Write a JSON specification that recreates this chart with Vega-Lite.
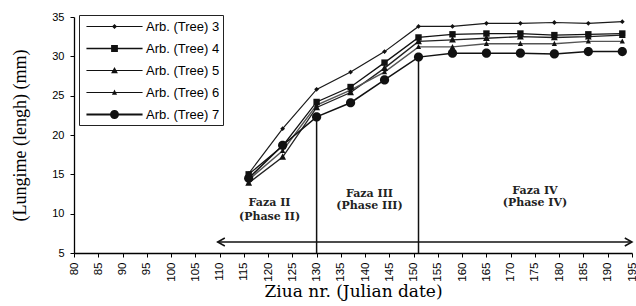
{
  "$schema": "https://vega.github.io/schema/vega-lite/v6.json",
  "width": 558,
  "height": 236,
  "autosize": {"type": "none"},
  "padding": {"left": 74, "top": 17, "right": 4, "bottom": 53},
  "background": "white",
  "config": {
    "view": {"stroke": null},
    "axis": {"grid": false, "domainColor": "black", "tickColor": "black", "labelColor": "black", "titleColor": "black", "labelFont": "Liberation Sans", "titleFont": "Liberation Serif", "titleFontWeight": "normal", "domainWidth": 1.3, "tickWidth": 1, "labelOverlap": false}
  },
  "resolve": {"scale": {"shape": "independent"}},
  "datasets": {
    "trees": [
      {"day": 116, "len": 15.1, "tree": "Arb. (Tree) 3"},
      {"day": 123, "len": 20.8, "tree": "Arb. (Tree) 3"},
      {"day": 130, "len": 25.8, "tree": "Arb. (Tree) 3"},
      {"day": 137, "len": 28.0, "tree": "Arb. (Tree) 3"},
      {"day": 144, "len": 30.6, "tree": "Arb. (Tree) 3"},
      {"day": 151, "len": 33.8, "tree": "Arb. (Tree) 3"},
      {"day": 158, "len": 33.8, "tree": "Arb. (Tree) 3"},
      {"day": 165, "len": 34.2, "tree": "Arb. (Tree) 3"},
      {"day": 172, "len": 34.2, "tree": "Arb. (Tree) 3"},
      {"day": 179, "len": 34.3, "tree": "Arb. (Tree) 3"},
      {"day": 186, "len": 34.2, "tree": "Arb. (Tree) 3"},
      {"day": 193, "len": 34.4, "tree": "Arb. (Tree) 3"},
      {"day": 116, "len": 15.0, "tree": "Arb. (Tree) 4"},
      {"day": 123, "len": 18.6, "tree": "Arb. (Tree) 4"},
      {"day": 130, "len": 24.2, "tree": "Arb. (Tree) 4"},
      {"day": 137, "len": 26.1, "tree": "Arb. (Tree) 4"},
      {"day": 144, "len": 29.2, "tree": "Arb. (Tree) 4"},
      {"day": 151, "len": 32.4, "tree": "Arb. (Tree) 4"},
      {"day": 158, "len": 32.8, "tree": "Arb. (Tree) 4"},
      {"day": 165, "len": 32.9, "tree": "Arb. (Tree) 4"},
      {"day": 172, "len": 32.9, "tree": "Arb. (Tree) 4"},
      {"day": 179, "len": 32.7, "tree": "Arb. (Tree) 4"},
      {"day": 186, "len": 32.8, "tree": "Arb. (Tree) 4"},
      {"day": 193, "len": 32.9, "tree": "Arb. (Tree) 4"},
      {"day": 116, "len": 13.9, "tree": "Arb. (Tree) 5"},
      {"day": 123, "len": 17.2, "tree": "Arb. (Tree) 5"},
      {"day": 130, "len": 23.5, "tree": "Arb. (Tree) 5"},
      {"day": 137, "len": 25.4, "tree": "Arb. (Tree) 5"},
      {"day": 144, "len": 28.5, "tree": "Arb. (Tree) 5"},
      {"day": 151, "len": 31.9, "tree": "Arb. (Tree) 5"},
      {"day": 158, "len": 32.1, "tree": "Arb. (Tree) 5"},
      {"day": 165, "len": 32.3, "tree": "Arb. (Tree) 5"},
      {"day": 172, "len": 32.5, "tree": "Arb. (Tree) 5"},
      {"day": 179, "len": 32.4, "tree": "Arb. (Tree) 5"},
      {"day": 186, "len": 32.5, "tree": "Arb. (Tree) 5"},
      {"day": 193, "len": 32.7, "tree": "Arb. (Tree) 5"},
      {"day": 116, "len": 14.3, "tree": "Arb. (Tree) 6"},
      {"day": 123, "len": 18.0, "tree": "Arb. (Tree) 6"},
      {"day": 130, "len": 23.8, "tree": "Arb. (Tree) 6"},
      {"day": 137, "len": 25.7, "tree": "Arb. (Tree) 6"},
      {"day": 144, "len": 28.0, "tree": "Arb. (Tree) 6"},
      {"day": 151, "len": 31.2, "tree": "Arb. (Tree) 6"},
      {"day": 158, "len": 31.2, "tree": "Arb. (Tree) 6"},
      {"day": 165, "len": 31.6, "tree": "Arb. (Tree) 6"},
      {"day": 172, "len": 31.6, "tree": "Arb. (Tree) 6"},
      {"day": 179, "len": 31.6, "tree": "Arb. (Tree) 6"},
      {"day": 186, "len": 31.9, "tree": "Arb. (Tree) 6"},
      {"day": 193, "len": 31.9, "tree": "Arb. (Tree) 6"},
      {"day": 116, "len": 14.5, "tree": "Arb. (Tree) 7"},
      {"day": 123, "len": 18.7, "tree": "Arb. (Tree) 7"},
      {"day": 130, "len": 22.3, "tree": "Arb. (Tree) 7"},
      {"day": 137, "len": 24.1, "tree": "Arb. (Tree) 7"},
      {"day": 144, "len": 27.0, "tree": "Arb. (Tree) 7"},
      {"day": 151, "len": 29.9, "tree": "Arb. (Tree) 7"},
      {"day": 158, "len": 30.4, "tree": "Arb. (Tree) 7"},
      {"day": 165, "len": 30.4, "tree": "Arb. (Tree) 7"},
      {"day": 172, "len": 30.4, "tree": "Arb. (Tree) 7"},
      {"day": 179, "len": 30.3, "tree": "Arb. (Tree) 7"},
      {"day": 186, "len": 30.6, "tree": "Arb. (Tree) 7"},
      {"day": 193, "len": 30.6, "tree": "Arb. (Tree) 7"}
    ],
    "phases": [
      {"day": 130, "from": 5, "to": 22.3},
      {"day": 151, "from": 5, "to": 29.9}
    ],
    "arrow": [{"start": 109.6, "end": 195.0, "level": 6.4}],
    "labels": [
      {"day": 120.3, "len": 11.4, "text": "Faza II"},
      {"day": 120.3, "len": 9.6, "text": "(Phase II)"},
      {"day": 140.9, "len": 12.5, "text": "Faza III"},
      {"day": 140.9, "len": 11.0, "text": "(Phase III)"},
      {"day": 175.0, "len": 12.9, "text": "Faza IV"},
      {"day": 175.0, "len": 11.3, "text": "(Phase IV)"}
    ]
  },
  "layer": [
    {
      "data": {"name": "trees"},
      "mark": {"type": "line"},
      "encoding": {
        "x": {"field": "day", "type": "quantitative", "scale": {"domain": [80, 195], "nice": false, "zero": false},
          "axis": {"tickCount": 23, "labelOverlap": false, "labelFlush": false, "labelAngle": 270, "labelFontSize": 11.5, "tickSize": 4, "labelPadding": 5, "title": "Ziua nr. (Julian date)", "titleFont": "DejaVu Serif", "titleFontSize": 17, "titlePadding": 2}},
        "y": {"field": "len", "type": "quantitative", "scale": {"domain": [5, 35], "nice": false, "zero": false},
          "axis": {"tickCount": 6, "labelOverlap": false, "labelFlush": false, "labelFontSize": 11, "tickSize": 4, "labelPadding": 6, "title": "(Lungime (lengh) (mm)", "titleFontSize": 18, "titlePadding": 22}},
        "color": {"field": "tree", "type": "nominal", "scale": {"domain": ["Arb. (Tree) 3", "Arb. (Tree) 4", "Arb. (Tree) 5", "Arb. (Tree) 6", "Arb. (Tree) 7"], "range": ["#1a1a1a", "#111111", "#222222", "#555555", "#111111"]}, "legend": null},
        "strokeWidth": {"field": "tree", "type": "nominal", "scale": {"domain": ["Arb. (Tree) 3", "Arb. (Tree) 4", "Arb. (Tree) 5", "Arb. (Tree) 6", "Arb. (Tree) 7"], "range": [1.2, 1.5, 1.2, 0.8, 1.9]}, "legend": null}
      }
    },
    {
      "data": {"name": "trees"},
      "mark": {"type": "point", "filled": true, "opacity": 1, "color": "#111", "size": 64},
      "encoding": {
        "x": {"field": "day", "type": "quantitative"},
        "y": {"field": "len", "type": "quantitative"},
        "shape": {"field": "tree", "type": "nominal",
          "scale": {"range": ["M0,-0.6L0.6,0L0,0.6L-0.6,0Z", "M-0.8,-0.8H0.8V0.8H-0.8Z", "M0,-0.95L0.85,0.7L-0.85,0.7Z", "M0,-0.75L0.65,0.55L-0.65,0.55Z", "M-1.15,0A1.15,1.15,0,1,0,1.15,0A1.15,1.15,0,1,0,-1.15,0Z"]},
          "legend": null}
      }
    },
    {
      "data": {"name": "trees"},
      "mark": {"type": "point", "filled": true, "color": "#111", "size": 0, "opacity": 1},
      "encoding": {
        "x": {"field": "day", "type": "quantitative"},
        "y": {"field": "len", "type": "quantitative"},
        "shape": {"field": "tree", "type": "nominal",
          "scale": {"range": [
            "M-3.3,-0.07H3.3V0.07H-3.3ZM0,-0.3L0.3,0L0,0.3L-0.3,0Z",
            "M-3.3,-0.09H3.3V0.09H-3.3ZM-0.4,-0.4H0.4V0.4H-0.4Z",
            "M-3.3,-0.07H3.3V0.07H-3.3ZM0,-0.42L0.4,0.33L-0.4,0.33Z",
            "M-3.3,-0.05H3.3V0.05H-3.3ZM0,-0.34L0.3,0.27L-0.3,0.27Z",
            "M-3.3,-0.11H3.3V0.11H-3.3ZM-0.53,0A0.53,0.53,0,1,1,0.53,0A0.53,0.53,0,1,1,-0.53,0Z"]},
          "legend": {
            "title": null, "orient": "none", "legendX": 5, "legendY": -2,
            "padding": 3, "rowPadding": 6, "symbolSize": 289, "symbolOffset": 24, "labelOffset": 23,
            "labelFont": "Liberation Sans", "labelFontSize": 13, "labelColor": "black",
            "strokeColor": "#222", "fillColor": "white",
            "symbolFillColor": "#111", "symbolStrokeWidth": 0, "symbolOpacity": 1
          }}
      }
    },
    {
      "data": {"name": "phases"},
      "mark": {"type": "rule", "color": "#111", "strokeWidth": 1.5},
      "encoding": {
        "x": {"field": "day", "type": "quantitative"},
        "y": {"field": "from", "type": "quantitative"},
        "y2": {"field": "to"}
      }
    },
    {
      "data": {"name": "arrow"},
      "mark": {"type": "rule", "color": "#111", "strokeWidth": 1.3},
      "encoding": {
        "x": {"field": "start", "type": "quantitative"},
        "x2": {"field": "end"},
        "y": {"field": "level", "type": "quantitative"}
      }
    },
    {
      "data": {"name": "arrow"},
      "mark": {"type": "point", "shape": "M1.8,-1L0,0L1.8,1", "size": 64, "filled": false, "stroke": "#111", "strokeWidth": 1.5, "opacity": 1},
      "encoding": {
        "x": {"field": "start", "type": "quantitative"},
        "y": {"field": "level", "type": "quantitative"}
      }
    },
    {
      "data": {"name": "arrow"},
      "mark": {"type": "point", "shape": "M-1.8,-1L0,0L-1.8,1", "size": 64, "filled": false, "stroke": "#111", "strokeWidth": 1.5, "opacity": 1},
      "encoding": {
        "x": {"field": "end", "type": "quantitative"},
        "y": {"field": "level", "type": "quantitative"}
      }
    },
    {
      "data": {"name": "labels"},
      "mark": {"type": "text", "font": "DejaVu Serif", "fontWeight": "bold", "fontSize": 11, "color": "#222", "align": "center", "baseline": "middle"},
      "encoding": {
        "x": {"field": "day", "type": "quantitative"},
        "y": {"field": "len", "type": "quantitative"},
        "text": {"field": "text"}
      }
    }
  ]
}
